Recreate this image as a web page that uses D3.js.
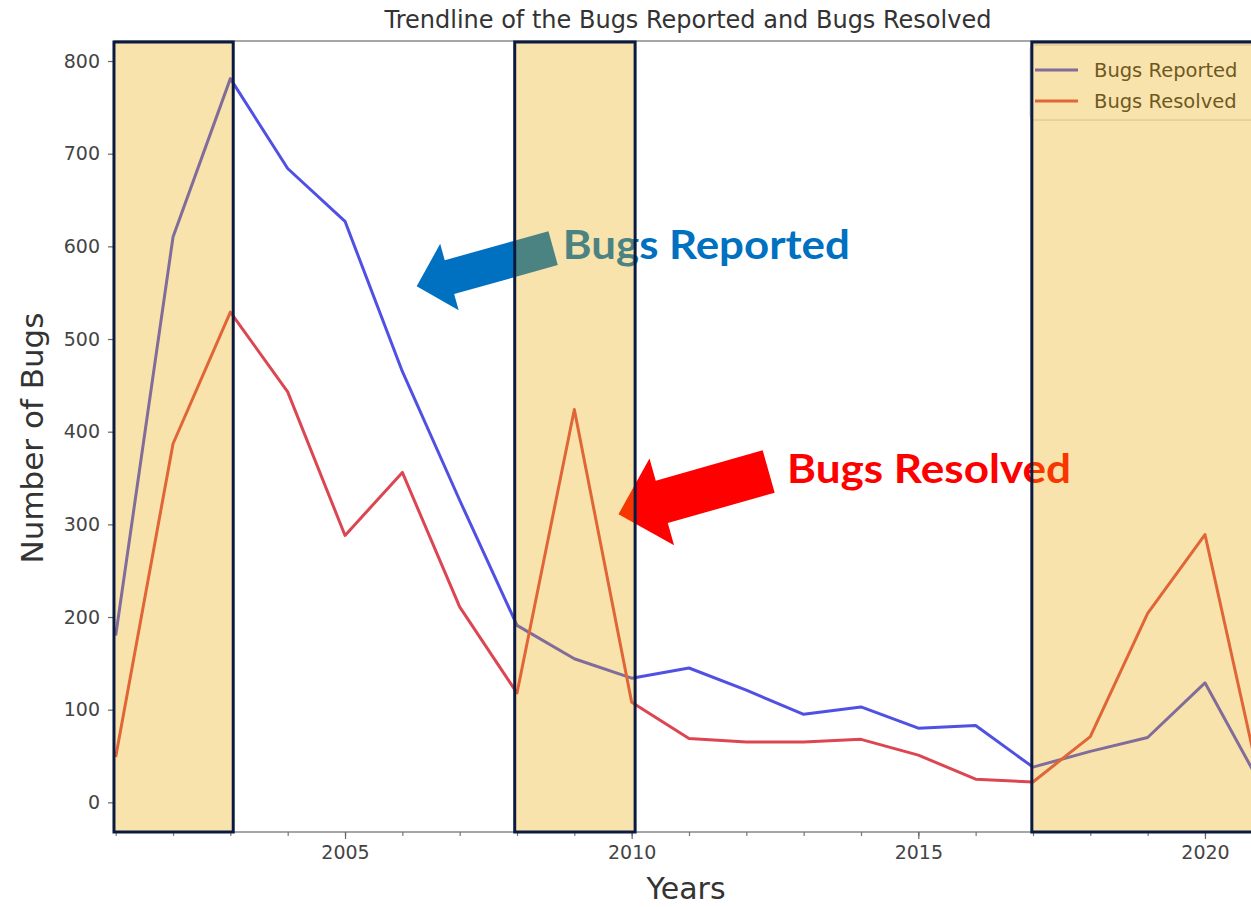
<!DOCTYPE html>
<html>
<head>
<meta charset="utf-8">
<script src="https://cdn.jsdelivr.net/npm/d3@7"></script>
<style>
  html, body { margin: 0; padding: 0; background: #fff; overflow: hidden; }
  svg { display: block; font-family: "DejaVu Sans", sans-serif; }
</style>
</head>
<body>
<svg id="chart"></svg>
<script>
// data
const years = [2001, 2002, 2003, 2004, 2005, 2006, 2007, 2008, 2009, 2010, 2011,
               2012, 2013, 2014, 2015, 2016, 2017, 2018, 2019, 2020, 2021]
const bugsReported = [180, 610, 781, 684, 627, 465, 326, 191, 155, 134, 145,
                      121, 95, 103, 80, 83, 38, 55, 70, 129, 16]
const bugsResolved = [49, 387, 529, 443, 288, 356, 211, 118, 424, 108, 69,
                      65, 65, 68, 51, 25, 22, 71, 204, 289, 10]
const yTicks = [0, 100, 200, 300, 400, 500, 600, 700, 800]
const xTickLabels = [2005, 2010, 2015, 2020]
// highlighted year spans
const highlights = [[2000.97, 2003.05], [2007.96, 2010.06], [2016.98, 2021.6]]
// callouts: tail / tip in [year, value]
const callouts = [
  { label: "Bugs Reported", color: "#0070c0", tail: [2008.63, 598], tip: [2006.25, 557], text: [2008.80, 586], len: 287, sw: 35, hw: 69, hl: 34 },
  { label: "Bugs Resolved", color: "#ff0000", tail: [2012.39, 357], tip: [2009.77, 311], text: [2012.71, 345], len: 284, sw: 44, hw: 90, hl: 45 }
]

const W = 1251, H = 907
const svg = d3.select("#chart").attr("width", W).attr("height", H)

const x = d3.scaleLinear().domain([2001, 2021]).range([115.7, 1262.3])
const y = d3.scaleLinear().domain([-32, 821.6]).range([832, 41])

const reported = years.map((yr, i) => ({ yr, v: bugsReported[i] }))
const resolved = years.map((yr, i) => ({ yr, v: bugsResolved[i] }))

// title
svg.append("text")
    .attr("x", 688).attr("y", 28)
    .attr("text-anchor", "middle")
    .attr("font-size", 24)
    .attr("fill", "#333")
    .text("Trendline of the Bugs Reported and Bugs Resolved")

// spines
svg.append("line").attr("x1", 114).attr("x2", W).attr("y1", 41).attr("y2", 41)
    .attr("stroke", "#888").attr("stroke-width", 1.5)
svg.append("line").attr("x1", 114).attr("x2", W).attr("y1", 832).attr("y2", 832)
    .attr("stroke", "#888").attr("stroke-width", 1.5)
svg.append("line").attr("x1", 114).attr("x2", 114).attr("y1", 41).attr("y2", 832)
    .attr("stroke", "#888").attr("stroke-width", 1.5)

// y axis
const yAxis = d3.axisLeft(y).tickValues(yTicks).tickSize(6).tickPadding(8)
const gy = svg.append("g").attr("transform", "translate(114,0)").call(yAxis)
gy.select(".domain").remove()
gy.selectAll(".tick line").attr("stroke", "#666").attr("stroke-width", 1.2)
gy.selectAll(".tick text").attr("font-size", 19).attr("fill", "#444")
    .attr("font-family", "DejaVu Sans")

// x axis, minor ticks every year
const xAxisMinor = d3.axisBottom(x).tickValues(years).tickSize(4).tickFormat("")
const gxm = svg.append("g").attr("transform", "translate(0,832)").call(xAxisMinor)
gxm.select(".domain").remove()
gxm.selectAll(".tick line").attr("stroke", "#777").attr("stroke-width", 1.2)

const xAxis = d3.axisBottom(x).tickValues(xTickLabels).tickSize(7).tickPadding(7)
    .tickFormat(d3.format("d"))
const gx = svg.append("g").attr("transform", "translate(0,832)").call(xAxis)
gx.select(".domain").remove()
gx.selectAll(".tick line").attr("stroke", "#666").attr("stroke-width", 1.2)
gx.selectAll(".tick text").attr("font-size", 19).attr("fill", "#444")
    .attr("font-family", "DejaVu Sans")

// axis titles
svg.append("text")
    .attr("x", 686).attr("y", 899)
    .attr("text-anchor", "middle")
    .attr("font-size", 30).attr("fill", "#333")
    .text("Years")
svg.append("text")
    .attr("transform", "translate(43,438) rotate(-90)")
    .attr("text-anchor", "middle")
    .attr("font-size", 31).attr("fill", "#333")
    .text("Number of Bugs")

// lines
const line = d3.line().x(d => x(d.yr)).y(d => y(d.v))
const plot = svg.append("g")
plot.append("path").datum(reported)
    .attr("d", line).attr("fill", "none")
    .attr("stroke", "#5050e4").attr("stroke-width", 3).attr("stroke-linejoin", "round")
plot.append("path").datum(resolved)
    .attr("d", line).attr("fill", "none")
    .attr("stroke", "#dc4652").attr("stroke-width", 3).attr("stroke-linejoin", "round")

// callout arrows + labels
function arrowPoints(c) {
    const t0 = [x(c.tail[0]), y(c.tail[1])]
    const t1 = [x(c.tip[0]), y(c.tip[1])]
    const dx = t1[0] - t0[0], dy = t1[1] - t0[1]
    const len = Math.hypot(dx, dy)
    const ux = dx / len, uy = dy / len
    const px = -uy, py = ux
    const bx = t1[0] - ux * c.hl, by = t1[1] - uy * c.hl
    return [
        [t0[0] + px * c.sw / 2, t0[1] + py * c.sw / 2],
        [bx + px * c.sw / 2, by + py * c.sw / 2],
        [bx + px * c.hw / 2, by + py * c.hw / 2],
        t1,
        [bx - px * c.hw / 2, by - py * c.hw / 2],
        [bx - px * c.sw / 2, by - py * c.sw / 2],
        [t0[0] - px * c.sw / 2, t0[1] - py * c.sw / 2]
    ]
}
const notes = svg.append("g")
notes.selectAll("polygon").data(callouts).join("polygon")
    .attr("points", d => arrowPoints(d).map(p => p.join(",")).join(" "))
    .attr("fill", d => d.color)
notes.selectAll("text").data(callouts).join("text")
    .attr("x", d => x(d.text[0])).attr("y", d => y(d.text[1]))
    .attr("font-family", "Lato, 'Open Sans', sans-serif")
    .attr("font-weight", "bold")
    .attr("font-size", 41)
    .attr("textLength", d => d.len)
    .attr("lengthAdjust", "spacingAndGlyphs")
    .attr("fill", d => d.color)
    .text(d => d.label)

// legend
const legend = svg.append("g").attr("transform", "translate(1030,45)")
legend.append("rect").attr("width", 240).attr("height", 75).attr("rx", 4)
    .attr("fill", "#fff").attr("fill-opacity", 0.8).attr("stroke", "#ccc")
const legendItems = [
    { label: "Bugs Reported", color: "#5050e4" },
    { label: "Bugs Resolved", color: "#dc4652" }
]
legendItems.forEach((d, i) => {
    const g = legend.append("g").attr("transform", `translate(0,${25 + i * 31})`)
    g.append("line").attr("x1", 5).attr("x2", 48).attr("stroke", d.color).attr("stroke-width", 3)
    g.append("text").attr("x", 64).attr("y", 7).attr("font-size", 19.5).attr("fill", "#333")
        .text(d.label)
})

// highlight boxes on top
const boxes = svg.append("g")
boxes.selectAll("rect.fill").data(highlights).join("rect")
    .attr("class", "fill")
    .attr("x", d => x(d[0])).attr("width", d => x(d[1]) - x(d[0]))
    .attr("y", y.range()[1] + 1).attr("height", y.range()[0] - y.range()[1] - 1)
    .attr("fill", "rgb(232,168,0)").attr("fill-opacity", 0.32)
    .attr("stroke", "#0b1a40").attr("stroke-width", 3)
</script>
</body>
</html>
